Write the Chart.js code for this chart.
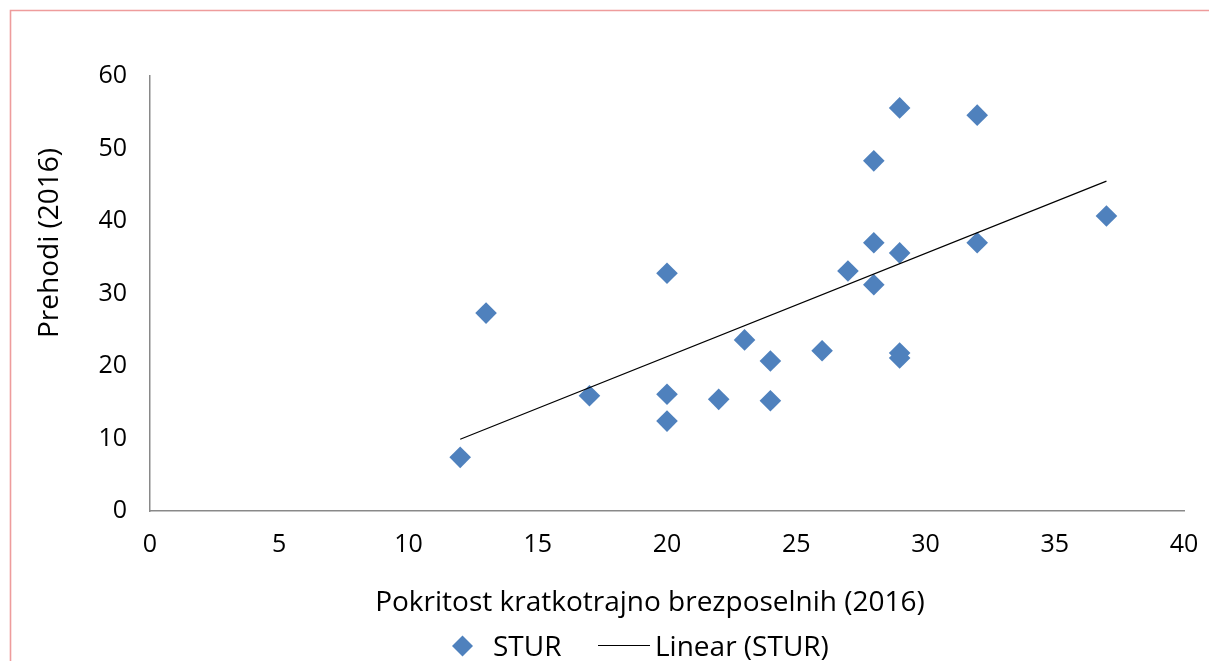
<!DOCTYPE html>
<html><head><meta charset="utf-8">
<script src="https://cdn.jsdelivr.net/npm/chart.js@4.4.1/dist/chart.umd.min.js"></script>
<style>html,body{margin:0;padding:0;background:#fff;overflow:hidden}canvas{display:block}</style>
</head><body>
<canvas id="c" width="1209" height="661"></canvas>
<script>
// ---- data ----
const sturX = [12, 13, 17, 20, 20, 20, 22, 23, 24, 24, 26, 27, 28, 28, 28, 29, 29, 29, 29, 32, 32, 37];
const sturY = [7.4, 27.3, 15.9, 32.8, 16.1, 12.4, 15.4, 23.6, 20.7, 15.2, 22.1, 33.1, 48.3, 37.0, 31.2, 55.6, 35.6, 21.8, 21.1, 54.6, 37.0, 40.7];
const trendX = [12, 37];
const trendY = [9.9, 45.5];
const xTickLabels = [0, 5, 10, 15, 20, 25, 30, 35, 40];
const yTickLabels = [0, 10, 20, 30, 40, 50, 60];
const seriesName = 'STUR';
const trendName = 'Linear (STUR)';
const xTitle = 'Pokritost kratkotrajno brezposelnih (2016)';
const yTitle = 'Prehodi (2016)';

const FONT = '"Open Sans", "Noto Sans", sans-serif';
const BLUE = '#4F81BD';
const AXIS = '#898989';

const decor = {
  id: 'decor',
  afterDraw(chart) {
    const ctx = chart.ctx;
    ctx.save();
    // outer chart border (top and left edges visible)
    ctx.strokeStyle = '#EE9C9C';
    ctx.lineWidth = 1.6;
    ctx.beginPath();
    ctx.moveTo(10.5, 700); ctx.lineTo(10.5, 10.5); ctx.lineTo(1300, 10.5);
    ctx.stroke();

    ctx.fillStyle = '#000';
    ctx.font = '28px ' + FONT;
    ctx.textBaseline = 'alphabetic';
    // x axis title
    ctx.textAlign = 'center';
    ctx.fillText(xTitle, 650, 611);
    // y axis title
    ctx.save();
    ctx.translate(57.5, 243);
    ctx.rotate(-Math.PI / 2);
    ctx.fillText(yTitle, 0, 0);
    ctx.restore();

    // legend
    const ds0 = chart.data.datasets[0], ds1 = chart.data.datasets[1];
    ctx.fillStyle = ds0.backgroundColor;
    ctx.beginPath();
    const cx = 462.5, cy = 646, r = 10.5;
    ctx.moveTo(cx, cy - r); ctx.lineTo(cx + r, cy); ctx.lineTo(cx, cy + r); ctx.lineTo(cx - r, cy); ctx.closePath();
    ctx.fill();
    ctx.fillStyle = '#000';
    ctx.textAlign = 'left';
    ctx.fillText(ds0.label, 493, 656);
    ctx.strokeStyle = ds1.borderColor;
    ctx.lineWidth = 1.2;
    ctx.beginPath(); ctx.moveTo(598, 645.5); ctx.lineTo(650, 645.5); ctx.stroke();
    ctx.fillText(ds1.label, 655, 656);
    ctx.restore();
  }
};

new Chart(document.getElementById('c'), {
  type: 'scatter',
  data: {
    datasets: [
      {
        label: seriesName,
        data: sturX.map((x, i) => ({ x: x, y: sturY[i] })),
        backgroundColor: BLUE,
        borderColor: BLUE,
        borderWidth: 0,
        pointStyle: 'rectRot',
        pointRadius: 10.8,
        pointHoverRadius: 10.8,
        order: 2
      },
      {
        label: trendName,
        type: 'line',
        data: trendX.map((x, i) => ({ x: x, y: trendY[i] })),
        borderColor: '#000',
        borderWidth: 1.2,
        pointRadius: 0,
        showLine: true,
        fill: false,
        order: 1
      }
    ]
  },
  options: {
    responsive: false,
    animation: false,
    devicePixelRatio: 1,
    layout: { padding: { top: 76, right: 25, bottom: 0, left: 0 } },
    plugins: { legend: { display: false }, tooltip: { enabled: false } },
    scales: {
      x: {
        type: 'linear',
        min: xTickLabels[0], max: xTickLabels[xTickLabels.length - 1],
        afterBuildTicks: s => { s.ticks = xTickLabels.map(v => ({ value: v })); },
        afterFit: s => { s.height = 150; s.paddingLeft = 0; s.paddingRight = 0; },
        grid: { display: false, drawTicks: false },
        border: { display: true, color: AXIS, width: 1.5 },
        ticks: { color: '#000', font: { family: FONT, size: 25 }, padding: 19, maxRotation: 0 }
      },
      y: {
        type: 'linear',
        min: yTickLabels[0], max: yTickLabels[yTickLabels.length - 1],
        afterBuildTicks: s => { s.ticks = yTickLabels.map(v => ({ value: v })); },
        afterFit: s => { s.width = 150; s.paddingTop = 0; s.paddingBottom = 0; },
        grid: { display: false, drawTicks: false },
        border: { display: true, color: AXIS, width: 1.5 },
        ticks: { color: '#000', font: { family: FONT, size: 25 }, padding: 23 }
      }
    }
  },
  plugins: [decor]
});
</script>
</body></html>
